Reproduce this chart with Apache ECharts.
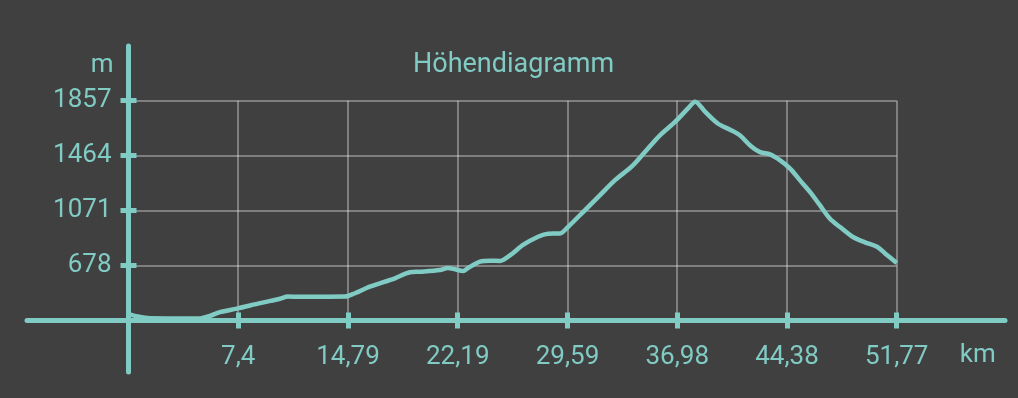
<!DOCTYPE html>
<html>
<head>
<meta charset="utf-8">
<title>Höhendiagramm</title>
<script src="https://cdn.jsdelivr.net/npm/echarts/dist/echarts.min.js"></script>
<style>
  html, body { margin: 0; padding: 0; background: #404040; }
  #chart { width: 1018px; height: 398px; }
</style>
</head>
<body>
<div id="chart"></div>
<script>
// distance along the route (km) and elevation (m)
const distKm = [0, 0.43, 1.44, 3.13, 4.81, 5.49, 6.16, 7.31, 8.86, 10.21,
  10.75, 11.56, 12.90, 14.59, 15.26, 16.27, 17.96, 18.97, 19.65, 20.99,
  21.53, 22.01, 22.55, 22.89, 23.69, 24.37, 25.04, 25.71, 26.59, 27.60,
  28.28, 29.08, 29.63, 30.77, 31.78, 32.79, 33.94, 34.82, 35.83, 36.84,
  37.71, 38.19, 38.86, 39.74, 40.55, 41.22, 41.90, 42.57, 43.24, 43.92,
  44.59, 45.26, 45.94, 46.61, 47.28, 47.96, 48.83, 49.64, 50.45, 50.99, 51.775];
const elevM = [330, 318, 301, 300, 300, 318, 345, 370, 409, 441,
  456, 454, 455, 456, 480, 527, 587, 630, 634, 646,
  660, 651, 639, 661, 706, 713, 711, 751, 825, 884,
  906, 908, 955, 1075, 1182, 1289, 1389, 1492, 1611, 1706,
  1802, 1850, 1778, 1692, 1649, 1608, 1537, 1489, 1473, 1430,
  1371, 1287, 1203, 1108, 1013, 953, 882, 844, 812, 765, 697];

const xTickValues = [7.396, 14.793, 22.189, 29.586, 36.982, 44.379, 51.775];
const xTickLabels = ['7,4', '14,79', '22,19', '29,59', '36,98', '44,38', '51,77'];
const yTickValues = [678, 1071, 1464, 1857];
const yTickLabels = ['678', '1071', '1464', '1857'];
const yMin = 285;

const teal = '#80cbc4';
const gridGray = 'rgba(255,255,255,0.33)';
const font = 'Roboto';

function xLabel(v) {
  const i = xTickValues.findIndex(t => Math.abs(t - v) < 0.01);
  return i < 0 ? '' : xTickLabels[i];
}
function yLabel(v) {
  const i = yTickValues.indexOf(v);
  return i < 0 ? '' : yTickLabels[i];
}

const xMax = xTickValues[xTickValues.length - 1];
const yMax = yTickValues[yTickValues.length - 1];

const option = {
  backgroundColor: '#404040',
  animation: false,
  title: {
    text: 'Höhendiagramm',
    left: 408,
    top: 47,
    textStyle: { color: teal, fontFamily: font, fontSize: 27, fontWeight: 'normal' }
  },
  grid: [
    // plot area
    { left: 128.5, right: 121.3, top: 100.7, bottom: 77.5 },
    // long horizontal axis line
    { left: 27, right: 13, top: 300, bottom: 77.5 },
    // long vertical axis line
    { left: 128.5, width: 100, top: 46, bottom: 26 }
  ],
  xAxis: [
    {
      type: 'value', gridIndex: 0, min: 0, max: xMax, position: 'bottom',
      name: 'km', nameLocation: 'end', nameGap: 63,
      nameTextStyle: { color: teal, fontFamily: font, fontSize: 26, verticalAlign: 'top', padding: [22, 0, 0, 0] },
      axisLine: { show: false, onZero: false },
      axisTick: { show: true, inside: false, length: 8, customValues: xTickValues,
        lineStyle: { color: teal, width: 5 } },
      axisLabel: { show: true, customValues: xTickValues, formatter: xLabel, margin: 24,
        color: teal, fontFamily: font, fontSize: 26 },
      splitLine: { show: true, lineStyle: { color: gridGray, width: 2 } }
    },
    {
      type: 'value', gridIndex: 0, min: 0, max: xMax, position: 'bottom',
      axisLine: { show: false, onZero: false },
      axisTick: { show: true, inside: true, length: 8, customValues: xTickValues,
        lineStyle: { color: teal, width: 5 } },
      axisLabel: { show: false },
      splitLine: { show: false }
    },
    {
      type: 'value', gridIndex: 1, min: 0, max: 1,
      axisLine: { show: true, onZero: false, lineStyle: { color: teal, width: 5 } },
      axisTick: { show: false }, axisLabel: { show: false }, splitLine: { show: false }
    },
    {
      type: 'value', gridIndex: 2, min: 0, max: 1, show: false
    }
  ],
  yAxis: [
    {
      type: 'value', gridIndex: 0, min: yMin, max: yMax, position: 'left',
      name: 'm', nameLocation: 'end', nameGap: 22,
      nameTextStyle: { color: teal, fontFamily: font, fontSize: 26, align: 'right', padding: [0, 15, 0, 0] },
      axisLine: { show: false, onZero: false },
      axisTick: { show: true, inside: false, length: 8, customValues: yTickValues,
        lineStyle: { color: teal, width: 5 } },
      axisLabel: { show: true, customValues: yTickValues, formatter: yLabel, margin: 17,
        color: teal, fontFamily: font, fontSize: 26 },
      splitLine: { show: true, lineStyle: { color: gridGray, width: 2 } }
    },
    {
      type: 'value', gridIndex: 0, min: yMin, max: yMax, position: 'left',
      axisLine: { show: false, onZero: false },
      axisTick: { show: true, inside: true, length: 8, customValues: yTickValues,
        lineStyle: { color: teal, width: 5 } },
      axisLabel: { show: false },
      splitLine: { show: false }
    },
    {
      type: 'value', gridIndex: 1, min: 0, max: 1, show: false
    },
    {
      type: 'value', gridIndex: 2, min: 0, max: 1, position: 'left',
      axisLine: { show: true, onZero: false, lineStyle: { color: teal, width: 5 } },
      axisTick: { show: false }, axisLabel: { show: false }, splitLine: { show: false }
    }
  ],
  series: [
    {
      name: 'Höhe',
      type: 'line',
      xAxisIndex: 0,
      yAxisIndex: 0,
      smooth: 0.3,
      showSymbol: false,
      clip: false,
      lineStyle: { color: teal, width: 4.5 },
      data: distKm.map((d, i) => [d, elevM[i]])
    }
  ]
};

const chart = echarts.init(document.getElementById('chart'));
chart.setOption(option);
</script>
</body>
</html>
